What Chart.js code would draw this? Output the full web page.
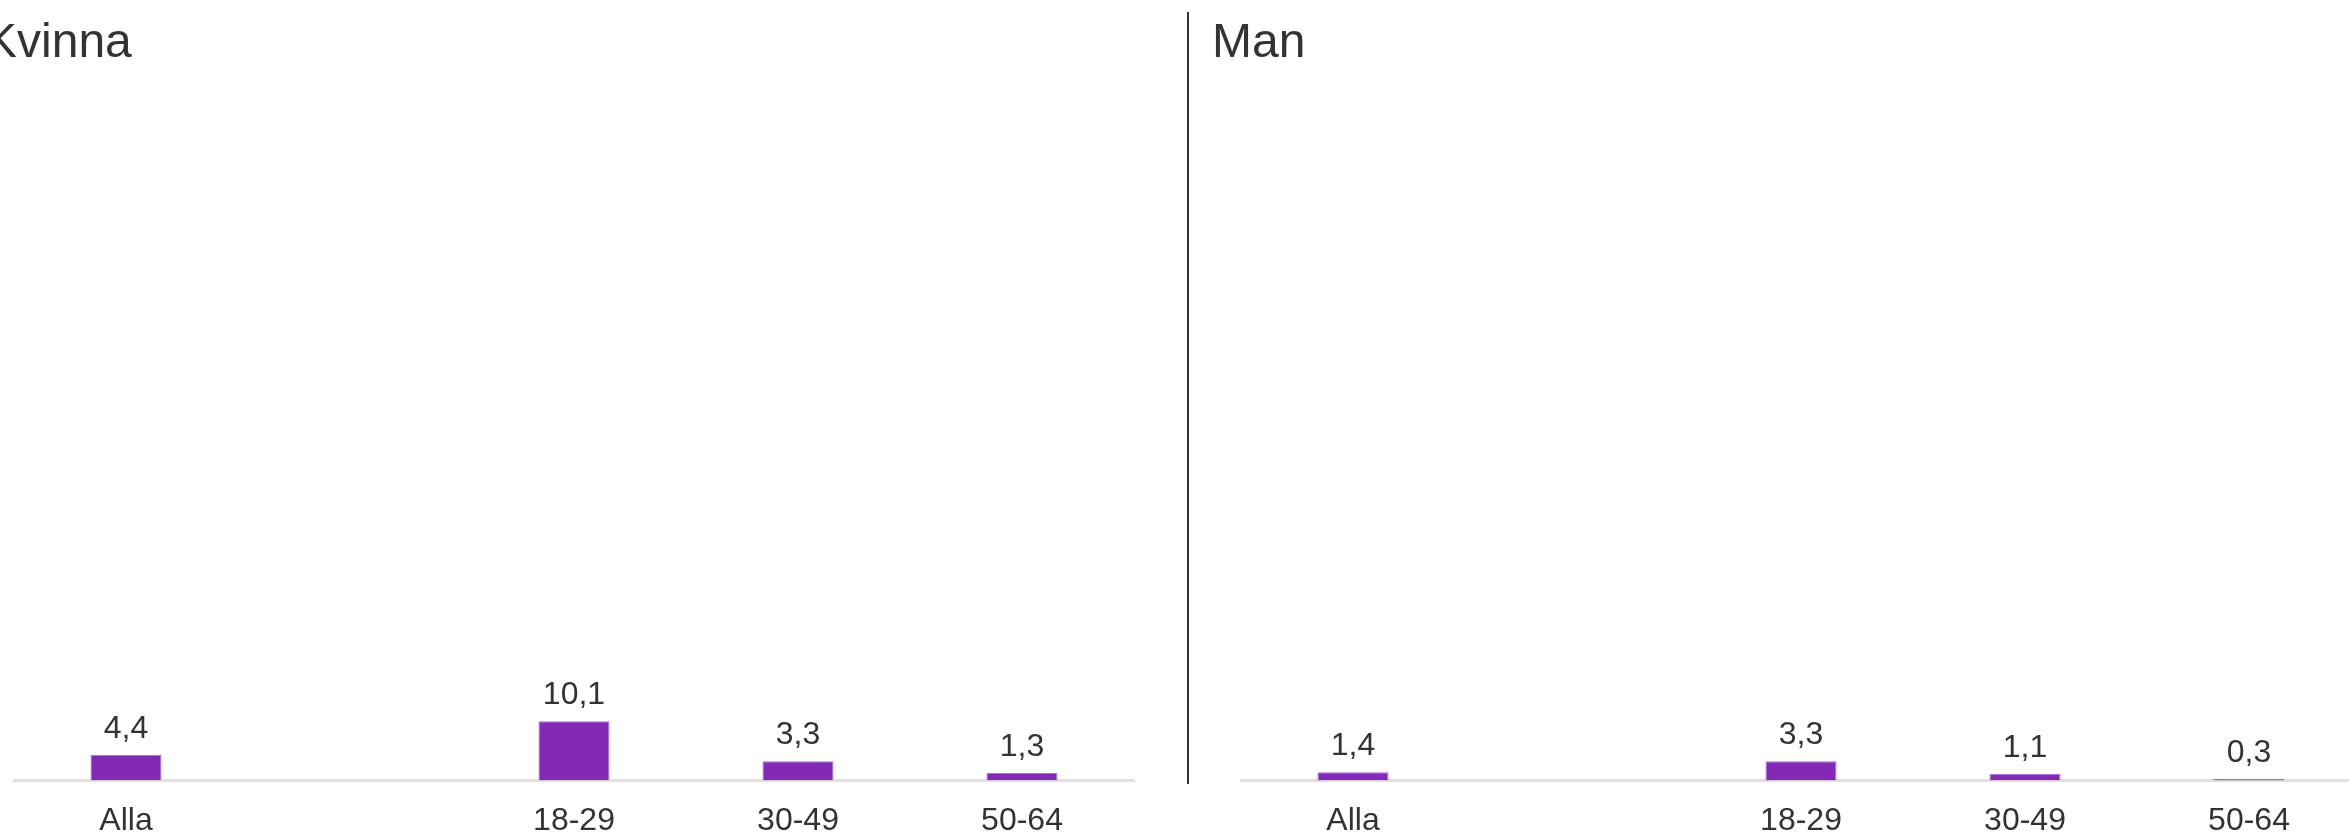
<!DOCTYPE html>
<html>
<head>
<meta charset="utf-8">
<script src="https://cdn.jsdelivr.net/npm/chart.js@4"></script>
<style>
  html, body { margin: 0; padding: 0; background: #fff; overflow: hidden; }
  body { width: 2349px; height: 833px; position: relative; }
  .panel { position: absolute; top: 0; width: 1227px; height: 833px; }
  #divider { position: absolute; left: 1187px; top: 12px; width: 2px; height: 772px; background: #333; }
</style>
</head>
<body>
<div class="panel" style="left:-15px"><canvas id="chartKvinna"></canvas></div>
<div id="divider"></div>
<div class="panel" style="left:1212px"><canvas id="chartMan"></canvas></div>

<script>
// data
const categories = ['Alla', '', '18-29', '30-49', '50-64'];
const kvinnaValues = [4.4, null, 10.1, 3.3, 1.3];
const manValues = [1.4, null, 3.3, 1.1, 0.3];

const barColor = '#8229b5';
const barEdge = '#a874d6';
const textColor = '#333333';
const fontFamily = '"Liberation Sans", Arial, sans-serif';

// draws the values above the bars, with decimal comma
const valueLabels = {
    id: 'valueLabels',
    afterDatasetsDraw(chart) {
        const ctx = chart.ctx;
        const meta = chart.getDatasetMeta(0);
        const values = chart.data.datasets[0].data;
        ctx.save();
        ctx.font = '32px ' + fontFamily;
        ctx.fillStyle = textColor;
        ctx.textAlign = 'center';
        ctx.textBaseline = 'alphabetic';
        meta.data.forEach((bar, i) => {
            const v = values[i];
            if (v === null || v === undefined) return;
            ctx.fillText(v.toFixed(1).replace('.', ','), bar.x, bar.y - 17);
        });
        ctx.restore();
    }
};

function makeChart(id, title, values) {
    const ctx = document.getElementById(id).getContext('2d');
    return new Chart(ctx, {
        type: 'bar',
        data: {
            labels: categories,
            datasets: [{
                data: values,
                backgroundColor: barColor,
                borderColor: barEdge,
                borderWidth: 1,
                categoryPercentage: 1,
                barPercentage: 0.317
            }]
        },
        options: {
            responsive: true,
            maintainAspectRatio: false,
            animation: false,
            layout: { padding: { left: 0, right: 78, top: 0, bottom: 0 } },
            plugins: {
                legend: { display: false },
                tooltip: { enabled: false },
                title: {
                    display: true,
                    text: title,
                    align: 'start',
                    color: textColor,
                    font: { family: fontFamily, size: 48, weight: 'normal', lineHeight: 1.2 },
                    padding: { top: 15, bottom: 10 }
                }
            },
            scales: {
                x: {
                    grid: { display: false, drawTicks: false },
                    border: { display: true, color: '#e0e0e0', width: 3 },
                    ticks: {
                        color: textColor,
                        font: { family: fontFamily, size: 32, lineHeight: 1 },
                        padding: 25,
                        autoSkip: false,
                        maxRotation: 0
                    },
                    afterFit(scale) { scale.height = 52.5; }
                },
                y: {
                    min: 0,
                    max: 119,
                    grid: { display: false },
                    border: { display: false },
                    ticks: { display: false },
                    afterFit(scale) { scale.width = 29; }
                }
            }
        },
        plugins: [valueLabels]
    });
}

makeChart('chartKvinna', 'Kvinna', kvinnaValues);
makeChart('chartMan', 'Man', manValues);
</script>
</body>
</html>
